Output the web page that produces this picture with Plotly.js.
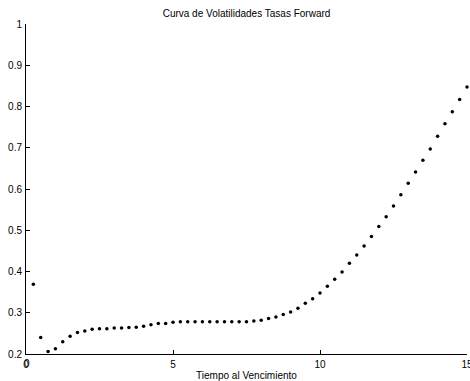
<!DOCTYPE html>
<html>
<head>
<meta charset="utf-8">
<script src="https://cdn.plot.ly/plotly-3.0.1.min.js"></script>
<style>html,body{margin:0;padding:0;background:#fff;}#chart{width:470px;height:381px;}</style>
</head>
<body>
<div id="chart"></div>
<script>
const maturities = [0.25,0.5,0.75,1.0,1.25,1.5,1.75,2.0,2.25,2.5,2.75,3.0,3.25,3.5,3.75,4.0,4.25,4.5,4.75,5.0,
  5.25,5.5,5.75,6.0,6.25,6.5,6.75,7.0,7.25,7.5,7.75,8.0,8.25,8.5,8.75,9.0,9.25,9.5,9.75,10.0,
  10.25,10.5,10.75,11.0,11.25,11.5,11.75,12.0,12.25,12.5,12.75,13.0,13.25,13.5,13.75,14.0,14.25,14.5,14.75,15.0];
const volatilities = [0.369,0.240,0.206,0.213,0.230,0.243,0.252,0.256,0.260,0.261,0.261,0.263,0.263,0.264,0.265,0.267,0.271,0.274,0.274,0.277,
  0.278,0.278,0.278,0.278,0.278,0.278,0.278,0.278,0.278,0.278,0.280,0.282,0.286,0.290,0.296,0.302,0.311,0.323,0.334,0.348,
  0.364,0.381,0.399,0.420,0.440,0.462,0.485,0.509,0.533,0.559,0.586,0.614,0.641,0.670,0.697,0.728,0.758,0.787,0.817,0.847];
const xTicks = [0,5,10,15];
const yTicks = [0.2,0.3,0.4,0.5,0.6,0.7,0.8,0.9,1];
const yTickText = ['0.2','0.3','0.4','0.5','0.6','0.7','0.8','0.9','1'];
const chartTitle = 'Curva de Volatilidades Tasas Forward';
const xTitle = 'Tiempo al Vencimiento';

const font = {family: 'Liberation Sans, Arial, sans-serif', size: 10, color: '#000'};
Plotly.newPlot('chart', [{
  x: maturities, y: volatilities, type: 'scatter', mode: 'markers',
  marker: {size: 3.5, color: '#000'}, cliponaxis: false, hoverinfo: 'skip'
}], {
  width: 470, height: 381,
  margin: {l: 26, r: 3, t: 24, b: 27, pad: 0},
  paper_bgcolor: '#fff', plot_bgcolor: '#fff',
  font: font,
  showlegend: false,
  title: {text: chartTitle, font: font, x: 0.5, xref: 'paper', xanchor: 'center', y: 1 - 13/381, yanchor: 'middle'},
  xaxis: {range: [0, 15], tickvals: xTicks, ticktext: xTicks.map(String), ticks: 'inside', ticklen: 4, tickcolor: '#000', tickwidth: 1,
    showline: true, linecolor: '#000', linewidth: 1, showgrid: false, zeroline: false, tickfont: font,
    ticklabeloverflow: 'allow', ticklabelstandoff: 1,
    title: {text: xTitle, font: font, standoff: 2}},
  yaxis: {range: [0.2, 1], tickvals: yTicks, ticktext: yTickText, ticks: 'inside', ticklen: 4, tickcolor: '#000', tickwidth: 1,
    showline: true, linecolor: '#000', linewidth: 1, showgrid: false, zeroline: false, tickfont: font,
    ticklabeloverflow: 'allow', ticklabelstandoff: 1},
  annotations: [{text: String(xTicks[0]), xref: 'x', x: xTicks[0], yref: 'paper', y: 0, yanchor: 'top', xanchor: 'center',
    showarrow: false, font: font, yshift: -3, xshift: 1, borderpad: 0}]
}, {staticPlot: true, displayModeBar: false});
</script>
</body>
</html>
